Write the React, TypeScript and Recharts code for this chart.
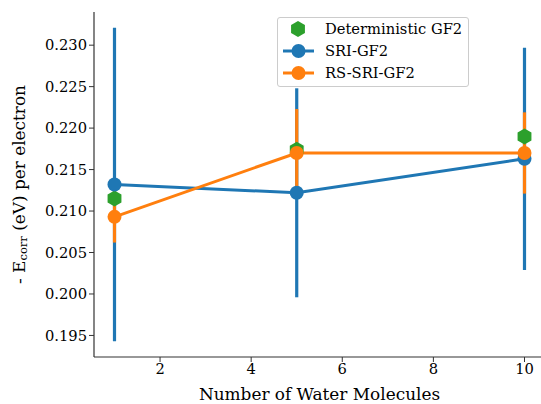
import { ComposedChart, ErrorBar, Legend, Line, Scatter, XAxis, YAxis } from "recharts";

const waterMolecules = [1, 5, 10];
const deterministicGF2 = [0.2115, 0.2174, 0.219];
const sriGF2 = [0.2132, 0.2122, 0.2163];
const sriGF2Err = [0.0189, 0.0126, 0.0134];
const rsSriGF2 = [0.2093, 0.217, 0.217];
const rsSriGF2Err = [0.0031, 0.0053, 0.0049];

const xTicks = [2, 4, 6, 8, 10];
const yTicks = [0.195, 0.2, 0.205, 0.21, 0.215, 0.22, 0.225, 0.23];
const seriesNames = ["Deterministic GF2", "SRI-GF2", "RS-SRI-GF2"];

const BLUE = "#1f77b4";
const ORANGE = "#ff7f0e";
const GREEN = "#2ca02c";
const FONT = "'DejaVu Serif'";
const AXIS = "#333";

const data = waterMolecules.map((x, i) => ({
  x,
  det: deterministicGF2[i],
  sri: sriGF2[i],
  sriErr: sriGF2Err[i],
  rs: rsSriGF2[i],
  rsErr: rsSriGF2Err[i],
}));

function hexPoints(cx: number, cy: number, r: number) {
  const pts: string[] = [];
  for (let k = 0; k < 6; k++) {
    const a = (Math.PI / 3) * k - Math.PI / 2;
    pts.push(`${cx + r * Math.cos(a)},${cy + r * Math.sin(a)}`);
  }
  return pts.join(" ");
}

function Hexagon(props: any) {
  const { cx, cy } = props;
  if (cx == null || cy == null) return null;
  return <polygon points={hexPoints(cx, cy, 8)} fill={GREEN} />;
}

function YLabel({ viewBox }: any) {
  const cx = (viewBox?.x ?? 0) + 19;
  const cy = (viewBox?.y ?? 0) + (viewBox?.height ?? 0) / 2;
  return (
    <text
      x={cx}
      y={cy}
      transform={`rotate(-90, ${cx}, ${cy})`}
      textAnchor="middle"
      dominantBaseline="central"
      fontSize={16.9}
      fontFamily={FONT}
      fill="#000"
    >
      - E
      <tspan dy={4} fontSize={11.5}>corr</tspan>
      <tspan dy={-4}> (eV) per electron</tspan>
    </text>
  );
}

function LegendBox() {
  const colors = [GREEN, BLUE, ORANGE];
  return (
    <div
      style={{
        border: "1px solid #ccc",
        borderRadius: 3,
        background: "rgba(255,255,255,0.85)",
        padding: "0 0 2px 0",
        fontFamily: FONT,
        fontSize: 14.7,
        color: "#000",
      }}
    >
      {seriesNames.map((name, i) => (
        <div key={name} style={{ display: "flex", alignItems: "center", height: 22 }}>
          <svg width={44} height={22} style={{ marginLeft: 3 }}>
            {i === 0 ? (
              <polygon points={hexPoints(17, 11, 8)} fill={colors[i]} />
            ) : (
              <>
                <line x1={2} x2={33} y1={11} y2={11} stroke={colors[i]} strokeWidth={3} />
                <circle cx={17.5} cy={11} r={7} fill={colors[i]} />
              </>
            )}
          </svg>
          <span style={{ lineHeight: "22px", whiteSpace: "nowrap" }}>{name}</span>
        </div>
      ))}
    </div>
  );
}

export default function App() {
  const tickStyle = { fill: "#000", fontSize: 14.7, fontFamily: FONT };
  return (
    <div
      style={{
        position: "absolute",
        left: 0,
        top: 0,
        width: 541,
        height: 404,
        overflow: "hidden",
        background: "#fff",
      }}
    >
      <ComposedChart width={560} height={404} data={data} margin={{ top: 12, right: 15, bottom: 0, left: 0 }}>
        <XAxis
          dataKey="x"
          type="number"
          domain={[0.55, 10.45]}
          ticks={xTicks}
          allowDataOverflow
          height={47}
          tick={tickStyle}
          tickSize={5}
          axisLine={{ stroke: AXIS, strokeWidth: 1.2 }}
          tickLine={{ stroke: AXIS }}
          label={{
            value: "Number of Water Molecules",
            position: "insideBottom",
            offset: 4,
            fill: "#000",
            fontSize: 16.9,
            fontFamily: FONT,
          }}
        />
        <XAxis
          xAxisId="top"
          orientation="top"
          type="number"
          domain={[0.55, 10.45]}
          height={0}
          tick={false}
          tickLine={false}
          axisLine={{ stroke: AXIS, strokeWidth: 1.2 }}
        />
        <YAxis
          type="number"
          domain={[0.1924, 0.234]}
          ticks={yTicks}
          allowDataOverflow
          width={94}
          tick={tickStyle}
          tickSize={5}
          tickFormatter={(v) => Number(v).toFixed(3)}
          axisLine={{ stroke: AXIS, strokeWidth: 1.2 }}
          tickLine={{ stroke: AXIS }}
          label={<YLabel />}
        />
        <Legend
          layout="horizontal"
          verticalAlign="middle"
          align="center"
          wrapperStyle={{ top: 17, left: 277, width: 192, height: "auto" }}
          content={() => <LegendBox />}
        />
        {/* error bars first so markers sit on top */}
        <Line dataKey="sri" stroke="none" dot={false} activeDot={false} legendType="none" isAnimationActive={false}>
          <ErrorBar dataKey="sriErr" direction="y" width={0} stroke={BLUE} strokeWidth={3.2} />
        </Line>
        <Line dataKey="rs" stroke="none" dot={false} activeDot={false} legendType="none" isAnimationActive={false}>
          <ErrorBar dataKey="rsErr" direction="y" width={0} stroke={ORANGE} strokeWidth={3.2} />
        </Line>
        <Scatter dataKey="det" name={seriesNames[0]} shape={<Hexagon />} isAnimationActive={false} />
        <Line
          type="linear"
          dataKey="sri"
          name={seriesNames[1]}
          stroke={BLUE}
          strokeWidth={3}
          dot={{ r: 7, fill: BLUE, stroke: BLUE, strokeWidth: 0 }}
          activeDot={false}
          isAnimationActive={false}
        />
        <Line
          type="linear"
          dataKey="rs"
          name={seriesNames[2]}
          stroke={ORANGE}
          strokeWidth={3}
          dot={{ r: 7, fill: ORANGE, stroke: ORANGE, strokeWidth: 0 }}
          activeDot={false}
          isAnimationActive={false}
        />
      </ComposedChart>
    </div>
  );
}
